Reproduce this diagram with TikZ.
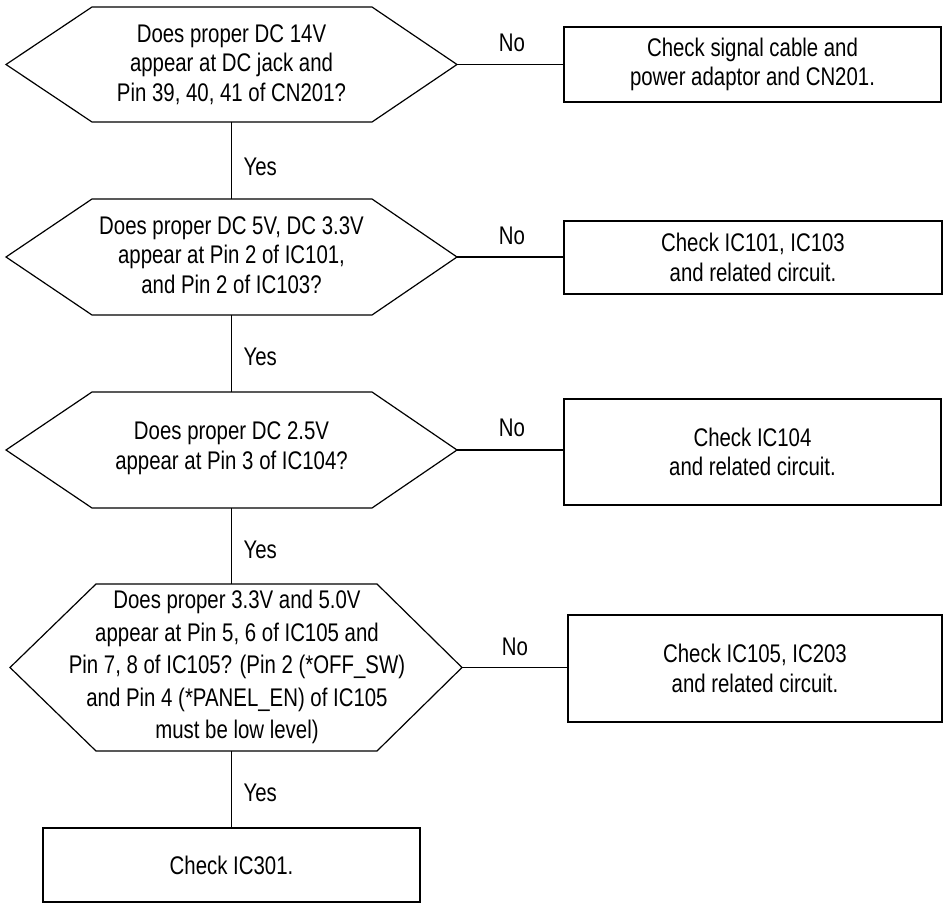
\documentclass[tikz,border=0pt]{standalone}
\usepackage{fontspec}
\setmainfont{Liberation Sans}[FakeStretch=0.8]
\begin{document}
\begin{tikzpicture}[x=1pt,y=-1pt,
  line width=1.2pt,
  txt/.style={font=\fontsize{25.5}{29.5}\selectfont, align=center, inner sep=0pt},
  widetxt/.style={font=\fontsize{25.5}{32.5}\selectfont, align=center, inner sep=0pt},
  lbl/.style={font=\fontsize{25.5}{29.5}\selectfont, inner sep=0pt}
]
\useasboundingbox (0,0) rectangle (943,904);
% hexagon 1
\draw (6,64.5) coordinate (h1l) -- (92,7) -- (231.5,7) coordinate (h1t) -- (372,7) -- (457,64.5) coordinate (h1r)
  -- (372,122) -- (231.5,122) coordinate (h1b) -- (92,122) -- cycle;
\node[txt] (q1) at (231.5,64.5) {Does proper DC 14V\\appear at DC jack and\\Pin 39, 40, 41 of CN201?};
% hexagon 2
\draw (6,257) coordinate (h2l) -- (92,199) -- (231.5,199) coordinate (h2t) -- (372,199) -- (457,257) coordinate (h2r)
  -- (372,315) -- (231.5,315) coordinate (h2b) -- (92,315) -- cycle;
\node[txt] (q2) at (231.5,255) {Does proper DC 5V, DC 3.3V\\appear at Pin 2 of IC101,\\and Pin 2 of IC103?};
% hexagon 3
\draw (6,450) coordinate (h3l) -- (92,392) -- (231.5,392) coordinate (h3t) -- (372,392) -- (457,450) coordinate (h3r)
  -- (372,508) -- (231.5,508) coordinate (h3b) -- (92,508) -- cycle;
\node[txt] (q3) at (231.5,448) {Does proper DC 2.5V\\appear at Pin 3 of IC104?};
% hexagon 4
\draw (10,667.5) coordinate (h4l) -- (96,584) -- (231.5,584) coordinate (h4t) -- (377,584) -- (462,667.5) coordinate (h4r)
  -- (377,751) -- (231.5,751) coordinate (h4b) -- (96,751) -- cycle;
\node[widetxt] (q4) at (237,667) {Does proper 3.3V and 5.0V\\appear at Pin 5, 6 of IC105 and\\Pin 7, 8 of IC105? (Pin 2 (*OFF\_SW)\\and Pin 4 (*PANEL\_EN) of IC105\\must be low level)};
% boxes
\node[draw, txt, minimum width=377pt, minimum height=75pt] (b1) at (752.5,64.5) {Check signal cable and\\power adaptor and CN201.};
\node[draw, txt, minimum width=378pt, minimum height=73pt] (b2) at (753,257.5) {Check IC101, IC103\\and related circuit.};
\node[draw, txt, minimum width=377pt, minimum height=106pt] (b3) at (752.5,452) {Check IC104\\and related circuit.};
\node[draw, txt, minimum width=374pt, minimum height=107pt] (b4) at (755,668.5) {Check IC105, IC203\\and related circuit.};
\node[draw, txt, minimum width=377pt, minimum height=74pt] (b5) at (231.5,865) {Check IC301.};
% connectors
\draw (h1r) -- (b1.west |- h1r);
\draw (h2r) -- (b2.west |- h2r);
\draw (h3r) -- (b3.west |- h3r);
\draw (h4r) -- (b4.west |- h4r);
\draw (h1b) -- (h2t);
\draw (h2b) -- (h3t);
\draw (h3b) -- (h4t);
\draw (h4b) -- (b5.north -| h4b);
% labels
\node[lbl] (n1) at (512,43) {No};
\node[lbl] (n2) at (512,236) {No};
\node[lbl] (n3) at (512,428) {No};
\node[lbl] (n4) at (515,647) {No};
\node[lbl, anchor=west] (y1) at (243,167) {Yes};
\node[lbl, anchor=west] (y2) at (243,357) {Yes};
\node[lbl, anchor=west] (y3) at (243,550) {Yes};
\node[lbl, anchor=west] (y4) at (243,793) {Yes};
\end{tikzpicture}
\end{document}
